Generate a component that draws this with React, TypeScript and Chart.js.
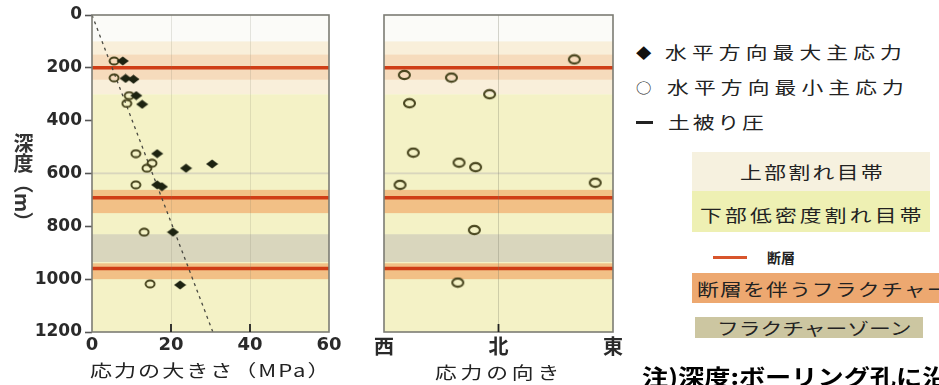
import React, { useEffect, useRef } from "react";
import { Chart, registerables } from "chart.js";

Chart.register(...registerables);

// Axis ticks
const depthTicks = [0, 200, 400, 600, 800, 1000, 1200];
const magnitudeTicks = [0, 20, 40, 60];
const directionValues = [-90, 0, 90];
const directionLabels = ["西", "北", "東"];

// Maximum horizontal principal stress (MPa) vs depth (m)
const maxStressMPa = [7.8, 8.5, 10.5, 11.2, 12.7, 16.5, 23.8, 30.4, 16.5, 17.7, 20.5, 22.3];
const maxStressDepth = [174, 240, 243, 305, 338, 525, 580, 564, 643, 650, 822, 1022];

// Minimum horizontal principal stress (MPa) vs depth (m)
const minStressMPa = [5.6, 5.6, 9.4, 8.8, 11.1, 15.2, 13.9, 11.1, 13.2, 14.7];
const minStressDepth = [174, 238, 305, 335, 525, 561, 580, 643, 822, 1018];

// Overburden pressure line
const overburdenMPa = [0, 30.6];
const overburdenDepth = [0, 1200];

// Orientation of the minimum horizontal stress (deg from north, west negative)
const minStressAzimuth = [59.6, -74, -37, -7, -70, -67, -31, -18, -77.4, 76, -19, -32];
const minStressAzimuthDepth = [168, 227, 237, 300, 334, 521, 559, 576, 643, 635, 814, 1013];

// Geological zones (depth, m)
const upperFractureZone = [100, 300];
const lowerFractureZone = [300, 1200];
const faultDepths = [200, 692, 960];
const faultFractureZones = [
  [150, 245],
  [662, 750],
  [940, 1000],
];
const fractureZones = [
  [596, 603],
  [830, 935],
];

const zonePlugin = {
  id: "zones",
  beforeDraw(chart: any) {
    const { ctx, chartArea: a, scales } = chart;
    const y = scales.y;
    const py = (d: number) => y.getPixelForValue(d);
    const band = (from: number, to: number, color: string) => {
      ctx.fillStyle = color;
      ctx.fillRect(a.left, py(from), a.right - a.left, py(to) - py(from));
    };
    ctx.save();
    band(0, 1200, "#fbfbf8");
    band(upperFractureZone[0], upperFractureZone[1], "#f9efda");
    band(lowerFractureZone[0], lowerFractureZone[1], "#f4f2c6");
    fractureZones.forEach(([f, t]) => band(f, t, "#d9d6bd"));
    faultFractureZones.forEach(([f, t], i) =>
      band(f, t, i === 0 ? "rgba(242,168,110,0.28)" : "rgba(240,158,92,0.6)")
    );
    ctx.strokeStyle = "#cf3d16";
    ctx.lineWidth = 3.5;
    faultDepths.forEach((d) => {
      ctx.beginPath();
      ctx.moveTo(a.left, py(d));
      ctx.lineTo(a.right, py(d));
      ctx.stroke();
    });
    ctx.restore();
  },
};

const framePlugin = {
  id: "frame",
  afterDatasetsDraw(chart: any, _args: any, opts: any) {
    const { ctx, chartArea: a, scales } = chart;
    const x = scales.x;
    ctx.save();
    ctx.strokeStyle = "#7c7c74";
    ctx.lineWidth = 1.6;
    ctx.strokeRect(a.left, a.top, a.right - a.left, a.bottom - a.top);
    ctx.strokeStyle = "#222";
    ctx.lineWidth = 1.8;
    (opts.innerTicks || []).forEach((v: number) => {
      const px = x.getPixelForValue(v);
      ctx.beginPath();
      ctx.moveTo(px, a.bottom);
      ctx.lineTo(px, a.bottom - 8);
      ctx.stroke();
    });
    ctx.restore();
  },
};

function makeMarker(w: number, h: number, draw: (c: CanvasRenderingContext2D) => void) {
  const c = document.createElement("canvas");
  c.width = w;
  c.height = h;
  const g = c.getContext("2d")!;
  draw(g);
  return c;
}

const tickColor = "#2a2a2a";

type TxtProps = {
  x: number;
  y: number;
  text: string;
  size: number;
  sx?: number;
  ls?: number;
  weight?: number | string;
  color?: string;
};

function Txt({ x, y, text, size, sx = 1, ls = 0, weight = 400, color = "#222" }: TxtProps) {
  return (
    <div
      style={{
        position: "absolute",
        left: x,
        top: y - size * 0.6,
        height: size * 1.2,
        fontSize: size,
        lineHeight: `${size * 1.2}px`,
        letterSpacing: ls,
        fontWeight: weight as any,
        color,
        whiteSpace: "nowrap",
        transform: `scaleX(${sx})`,
        transformOrigin: "0 50%",
      }}
    >
      {text}
    </div>
  );
}

function Box({ x, y, w, h, bg }: { x: number; y: number; w: number; h: number; bg: string }) {
  return <div style={{ position: "absolute", left: x, top: y, width: w, height: h, background: bg }} />;
}

export default function App() {
  const leftRef = useRef<HTMLCanvasElement>(null);
  const rightRef = useRef<HTMLCanvasElement>(null);

  useEffect(() => {
    const diamond = makeMarker(13, 10, (g) => {
      g.fillStyle = "#1d2311";
      g.beginPath();
      g.moveTo(6.5, 0.5);
      g.lineTo(12.5, 5);
      g.lineTo(6.5, 9.5);
      g.lineTo(0.5, 5);
      g.closePath();
      g.fill();
    });
    const ringSmall = makeMarker(12, 10, (g) => {
      g.strokeStyle = "#45421c";
      g.lineWidth = 1.9;
      g.beginPath();
      g.ellipse(6, 5, 4.5, 3.5, 0, 0, Math.PI * 2);
      g.stroke();
    });
    const ringLarge = makeMarker(15, 12, (g) => {
      g.strokeStyle = "#4a4720";
      g.lineWidth = 2.1;
      g.beginPath();
      g.ellipse(7.5, 6, 5.5, 4.1, 0, 0, Math.PI * 2);
      g.stroke();
    });

    const left = new Chart(leftRef.current!, {
      type: "scatter",
      data: {
        datasets: [
          {
            label: "水平方向最大主応力",
            data: maxStressMPa.map((v, i) => ({ x: v, y: maxStressDepth[i] })),
            pointStyle: diamond as any,
          },
          {
            label: "水平方向最小主応力",
            data: minStressMPa.map((v, i) => ({ x: v, y: minStressDepth[i] })),
            pointStyle: ringSmall as any,
          },
          {
            label: "土被り圧",
            data: overburdenMPa.map((v, i) => ({ x: v, y: overburdenDepth[i] })),
            showLine: true,
            pointRadius: 0,
            borderColor: "#4a4a42",
            borderWidth: 1.3,
            borderDash: [3, 4],
          },
        ],
      },
      options: {
        animation: false,
        responsive: false,
        layout: { padding: { left: 0, right: 21, top: 15, bottom: 0 } },
        plugins: {
          legend: { display: false },
          tooltip: { enabled: false },
          frame: { innerTicks: [20, 40] },
        } as any,
        scales: {
          x: {
            type: "linear",
            min: 0,
            max: 60,
            afterFit: (s: any) => {
              s.height = 53;
            },
            afterBuildTicks: (s: any) => {
              s.ticks = magnitudeTicks.map((v) => ({ value: v }));
            },
            border: { display: false },
            grid: {
              drawTicks: false,
              lineWidth: 1,
              color: (c: any) =>
                c.tick && (c.tick.value === 0 || c.tick.value === 60)
                  ? "rgba(0,0,0,0)"
                  : "rgba(120,120,100,0.18)",
            },
            ticks: {
              padding: 3,
              color: tickColor,
              font: { family: "DejaVu Sans", size: 18, weight: "bold" },
              maxRotation: 0,
              autoSkip: false,
              callback: (v: any) => String(v),
            },
          },
          y: {
            type: "linear",
            reverse: true,
            min: 0,
            max: 1200,
            afterFit: (s: any) => {
              s.width = 92;
            },
            afterBuildTicks: (s: any) => {
              s.ticks = depthTicks.map((v) => ({ value: v }));
            },
            border: { display: false },
            grid: {
              drawOnChartArea: false,
              drawTicks: true,
              tickLength: 7,
              tickColor: "#555",
              tickWidth: 1.6,
            } as any,
            ticks: {
              padding: 3,
              color: tickColor,
              font: { family: "DejaVu Sans", size: 17, weight: "bold" },
              autoSkip: false,
              callback: (v: any) => String(v),
            },
          },
        },
      },
      plugins: [zonePlugin, framePlugin],
    });

    const right = new Chart(rightRef.current!, {
      type: "scatter",
      data: {
        datasets: [
          {
            label: "水平方向最小主応力の向き",
            data: minStressAzimuth.map((v, i) => ({ x: v, y: minStressAzimuthDepth[i] })),
            pointStyle: ringLarge as any,
          },
        ],
      },
      options: {
        animation: false,
        responsive: false,
        layout: { padding: { left: 24, right: 17, top: 15, bottom: 0 } },
        plugins: {
          legend: { display: false },
          tooltip: { enabled: false },
          frame: { innerTicks: [0] },
        } as any,
        scales: {
          x: {
            type: "linear",
            min: -90,
            max: 90,
            afterFit: (s: any) => {
              s.height = 53;
            },
            afterBuildTicks: (s: any) => {
              s.ticks = directionValues.map((v) => ({ value: v }));
            },
            border: { display: false },
            grid: {
              drawTicks: false,
              lineWidth: 1,
              color: (c: any) => (c.tick && c.tick.value === 0 ? "rgba(120,120,100,0.3)" : "rgba(0,0,0,0)"),
            },
            ticks: {
              padding: 2,
              color: tickColor,
              font: { family: "Noto Sans CJK JP", size: 20, weight: "bold" },
              maxRotation: 0,
              autoSkip: false,
              callback: (v: any) => directionLabels[directionValues.indexOf(Number(v))],
            },
          },
          y: {
            type: "linear",
            display: false,
            reverse: true,
            min: 0,
            max: 1200,
          },
        },
      },
      plugins: [zonePlugin, framePlugin],
    });

    return () => {
      left.destroy();
      right.destroy();
    };
  }, []);

  return (
    <div
      style={{
        position: "fixed",
        left: 0,
        top: 0,
        width: 939,
        height: 385,
        overflow: "hidden",
        background: "#ffffff",
        fontFamily: "'Noto Sans CJK JP', sans-serif",
      }}
    >
      <canvas ref={leftRef} width={350} height={385} style={{ position: "absolute", left: 0, top: 0 }} />
      <canvas ref={rightRef} width={270} height={385} style={{ position: "absolute", left: 360, top: 0 }} />

      {/* depth axis title */}
      <div
        style={{
          position: "absolute",
          left: 13,
          top: 133,
          fontSize: 20,
          lineHeight: "21px",
          writingMode: "vertical-rl",
          color: "#333",
          fontWeight: 700,
        }}
      >
        深度（m）
      </div>

      <Txt x={90} y={370} text="応力の大きさ（MPa）" size={17} sx={1.3} ls={1.5} />
      <Txt x={435} y={372} text="応力の向き" size={17} sx={1.28} ls={3} />

      {/* legend: symbols */}
      <Txt x={636} y={52} text="◆" size={14} sx={1.1} color="#111" />
      <Txt x={665} y={52} text="水平方向最大主応力" size={17} sx={1.28} ls={4} />
      <Txt x={636} y={87} text="○" size={14} sx={1.1} color="#222" />
      <Txt x={667} y={87} text="水平方向最小主応力" size={17} sx={1.28} ls={4} />
      <div style={{ position: "absolute", left: 636, top: 121, width: 17, height: 2.5, background: "#222" }} />
      <Txt x={668} y={122} text="土被り圧" size={17} sx={1.28} ls={2.3} />

      {/* legend: zones */}
      <Box x={692} y={152} w={238} h={39} bg="#f6f1df" />
      <Txt x={740} y={172} text="上部割れ目帯" size={17} sx={1.28} ls={1.9} />
      <Box x={692} y={191} w={238} h={41} bg="#eef0b3" />
      <Txt x={700} y={215} text="下部低密度割れ目帯" size={17} sx={1.28} ls={2.5} />
      <div style={{ position: "absolute", left: 713, top: 256, width: 34, height: 2.5, background: "#d8552c" }} />
      <Txt x={767} y={257} text="断層" size={14} weight={700} />
      <Box x={692} y={273} w={250} h={30} bg="#eda870" />
      <Txt x={697} y={289} text="断層を伴うフラクチャー" size={17} sx={1.28} ls={1} />
      <Box x={695} y={317} w={228} h={21} bg="#ccc6a1" />
      <Txt x={717} y={328} text="フラクチャーゾーン" size={17} sx={1.28} />

      <Txt x={642} y={375} text="注)深度:ボーリング孔に沿" size={22} sx={1.19} weight={700} color="#000" />
    </div>
  );
}
